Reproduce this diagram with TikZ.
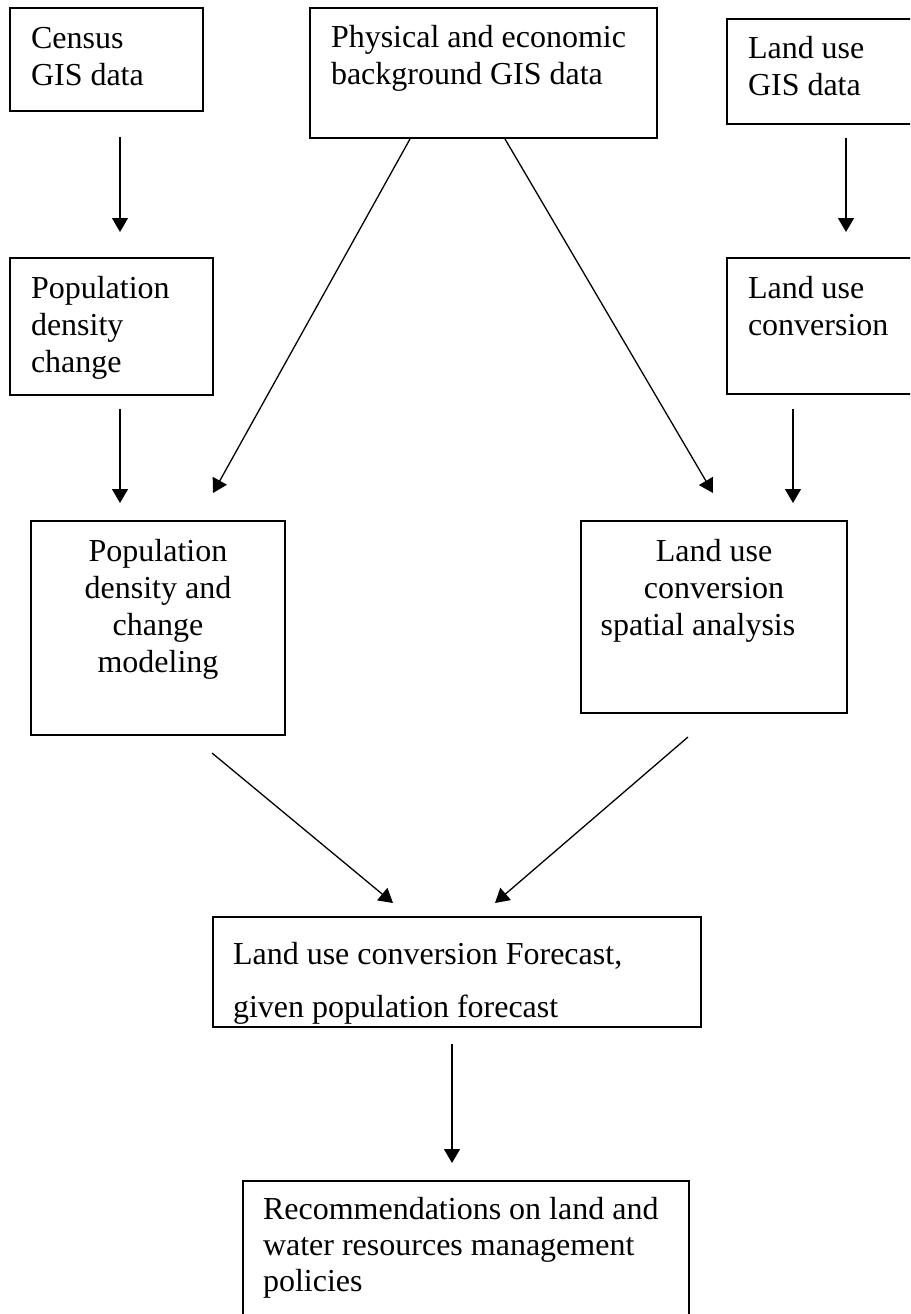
\documentclass[tikz,border=0pt]{standalone}
\usepackage{fontspec}
\setmainfont{Liberation Serif}
\usetikzlibrary{arrows.meta,calc}
\newcommand{\alignL}{\raggedright\leftskip=21pt\relax}
\newcommand{\alignLf}{\raggedright\leftskip=20pt\relax}
\newcommand{\alignC}{\centering}
% #1 width, #2 height, #3 first baseline from top, #4 baselineskip, #5 alignment, #6 text
\newcommand{\boxtext}[6]{\parbox[t][#2pt][t]{#1pt}{\fontsize{32pt}{#4pt}\selectfont #5\vspace*{\dimexpr#3pt-0.7\baselineskip\relax}\strut#6}}
\begin{document}
\begin{tikzpicture}[x=1pt,y=-1pt,
  box/.style={draw, line width=2pt, inner sep=0pt, anchor=north west},
  arr/.style={line width=1.3pt, -{Triangle[width=16pt,length=14pt]}}]
\useasboundingbox (0,0) rectangle (910,1314);
\fill[white] (0,0) rectangle (910,1314);
\begin{scope}
\clip (0,0) rectangle (910,1314);
\node[box] (census) at (9,7) {\boxtext{193}{103}{41}{37}{\alignL}{Census\\GIS data}};
\node[box] (phys) at (309,7) {\boxtext{347}{130}{40}{37}{\alignL}{\mbox{Physical and economic}\\\mbox{background GIS data}}};
\node[box] (lugis) at (726,18) {\boxtext{220}{105}{40}{37}{\alignL}{Land use\\GIS data}};
\node[box] (popchg) at (9,257) {\boxtext{203}{137}{40}{37}{\alignL}{Population\\density\\change}};
\node[box] (luconv) at (726,257) {\boxtext{220}{136}{40}{37}{\alignL}{Land use\\conversion}};
\node[box] (popmod) at (30,520) {\boxtext{254}{214}{40}{37}{\alignC}{Population\\density and\\change\\modeling}};
\node[box] (spatial) at (580,520) {\boxtext{266}{192}{40}{37}{\alignC}{Land use\\conversion\\spatial analysis\hspace*{32pt}}};
\node[box] (forecast) at (212,916) {\boxtext{488}{110}{47}{53}{\alignLf}{\mbox{Land use conversion Forecast,}\\\mbox{given population forecast}}};
\node[box] (recs) at (242,1180) {\boxtext{446}{150}{38}{36}{\alignLf}{\mbox{Recommendations on land and}\\\mbox{water resources management}\\policies}};
\end{scope}
\coordinate (c1) at (120,0);
\coordinate (c2) at (846,0);
\coordinate (c3) at (793,0);
\draw[arr, shorten <=25pt, shorten >=25pt] (census.south -| c1) -- (popchg.north -| c1);
\draw[arr, shorten <=13pt, shorten >=25pt] (lugis.south -| c2) -- (luconv.north -| c2);
\draw[arr, shorten <=13pt, shorten >=17pt] (popchg.south -| c1) -- (popmod.north -| c1);
\draw[arr, shorten <=14pt, shorten >=17pt] (luconv.south -| c3) -- (spatial.north -| c3);
\draw[arr] ($(phys.south west)+(101,0)$) -- ($(popmod.north west)+(183,-27)$);
\draw[arr] ($(phys.south west)+(196,0)$) -- ($(spatial.north west)+(133,-27)$);
\draw[arr] ($(popmod.south west)+(182,17)$) -- ($(forecast.north west)+(181,-13)$);
\draw[arr] ($(spatial.south west)+(108,23)$) -- ($(forecast.north west)+(283,-13)$);
\draw[arr] ($(forecast.south west)+(240,16)$) -- ($(recs.north west)+(210,-17)$);
\end{tikzpicture}
\end{document}
